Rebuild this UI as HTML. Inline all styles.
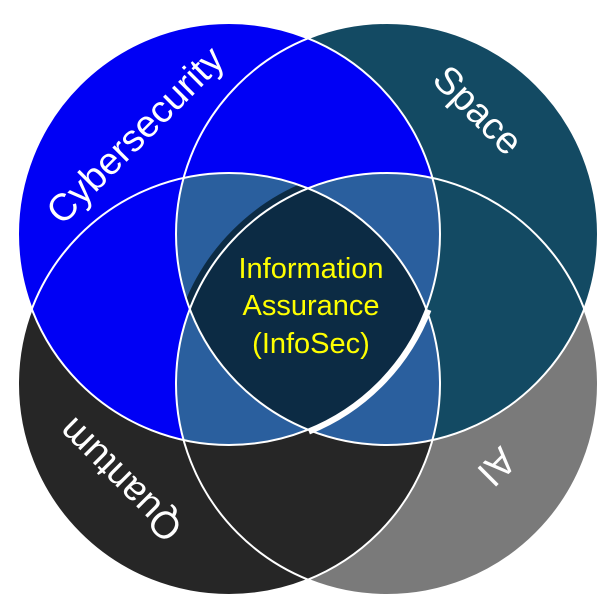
<!DOCTYPE html>
<html><head><meta charset="utf-8"><style>html,body{margin:0;padding:0;background:#fff}svg{display:block}</style></head>
<body>
<svg width="600" height="600" viewBox="0 0 600 600" xmlns="http://www.w3.org/2000/svg">
<defs>
<clipPath id="cC"><circle cx="229" cy="234" r="211"/></clipPath>
<clipPath id="cS"><circle cx="387" cy="234" r="211"/></clipPath>
<clipPath id="cQ"><circle cx="229" cy="384" r="211"/></clipPath>
<clipPath id="cA"><circle cx="387" cy="384" r="211"/></clipPath>
</defs>
<rect width="600" height="600" fill="#fff"/>
<circle cx="387" cy="384" r="211" fill="#7a7a7a"/>
<circle cx="229" cy="384" r="211" fill="#262626"/>
<circle cx="387" cy="234" r="211" fill="#134a63"/>
<circle cx="229" cy="234" r="211" fill="#0000f5"/>
<g clip-path="url(#cC)"><g clip-path="url(#cS)"><circle cx="229" cy="384" r="211" fill="#2a5f9e"/><circle cx="387" cy="384" r="211" fill="#2a5f9e"/></g></g>
<g clip-path="url(#cQ)"><g clip-path="url(#cA)"><circle cx="229" cy="234" r="211" fill="#2a5f9e"/><circle cx="387" cy="234" r="211" fill="#2a5f9e"/></g></g>
<g clip-path="url(#cC)"><g clip-path="url(#cS)"><g clip-path="url(#cQ)"><circle cx="387" cy="384" r="211" fill="#0c2b44"/></g></g></g>
<g clip-path="url(#cC)"><g clip-path="url(#cS)"><g clip-path="url(#cQ)"><circle cx="387" cy="384" r="215" fill="none" stroke="#0c2b44" stroke-width="6"/></g></g></g>
<path d="M429 310 A214 214 0 0 1 309 432" fill="none" stroke="#fff" stroke-width="5"/>
<g fill="none" stroke="#fff" stroke-width="2">
<circle cx="229" cy="234" r="211"/><circle cx="387" cy="234" r="211"/>
<circle cx="229" cy="384" r="211"/><circle cx="387" cy="384" r="211"/>
</g>
<g font-family="Liberation Sans, sans-serif" fill="#fff" font-size="38" text-anchor="middle">
<text transform="translate(135,135) rotate(-45)" dy="13">Cybersecurity</text>
<text transform="translate(478,110) rotate(45)" dy="13">Space</text>
<text transform="translate(120,480) rotate(225)" dy="13">Quantum</text>
<text transform="translate(497,467) rotate(135)" dy="13">AI</text>
</g>
<g font-family="Liberation Sans, sans-serif" fill="#ffff00" font-size="29" text-anchor="middle">
<text x="311" y="278">Information</text>
<text x="311" y="315">Assurance</text>
<text x="311" y="353">(InfoSec)</text>
</g>
</svg>
</body></html>
